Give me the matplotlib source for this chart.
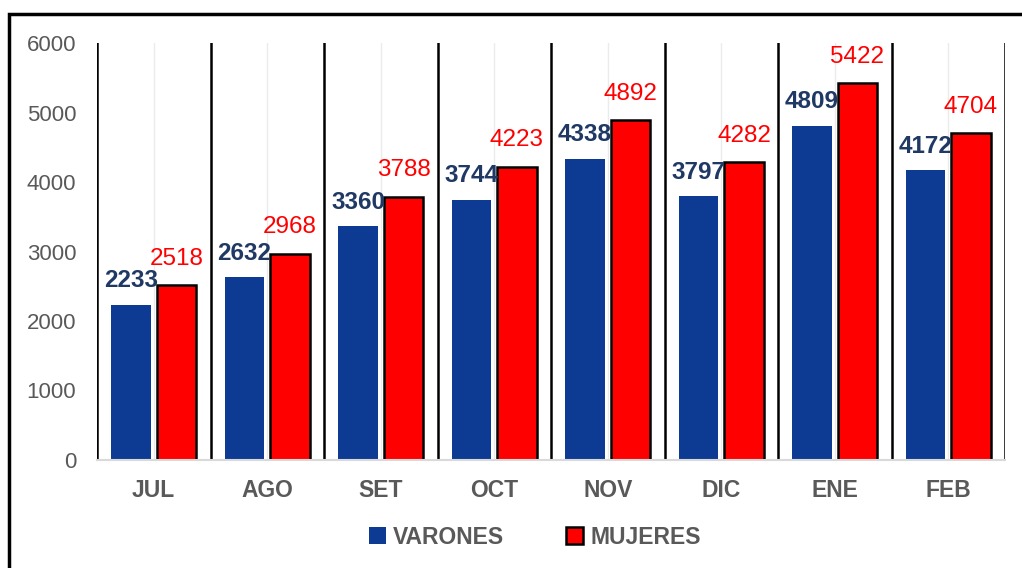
import numpy as np
import matplotlib.pyplot as plt
import matplotlib
from matplotlib.patches import Rectangle

plt.rcParams['font.family'] = ['Liberation Sans', 'DejaVu Sans']

# Data
meses = ["JUL", "AGO", "SET", "OCT", "NOV", "DIC", "ENE", "FEB"]
varones = [2233, 2632, 3360, 3744, 4338, 3797, 4809, 4172]
mujeres = [2518, 2968, 3788, 4223, 4892, 4282, 5422, 4704]
yticks = [0, 1000, 2000, 3000, 4000, 5000, 6000]

azul = "#0D3B94"
azul_txt = "#1F3864"
rojo = "#FF0000"
gris = "#595959"

fig = plt.figure(figsize=(10.22, 5.68), dpi=100)
ax = fig.add_axes([97/1022, 1-460/568, (1005-97)/1022, (460-43)/568])

x = np.arange(len(meses))
w = 0.35
off = 0.2

# gridlines at centers (light) and separators at boundaries (black)
for xi in x:
    ax.axvline(xi, color="#EBEBEB", lw=1, zorder=0)
for b in np.arange(len(meses) + 1) - 0.5:
    ax.axvline(b, color="black", lw=1.8, zorder=1)

b1 = ax.bar(x - off, varones, w, color=azul, zorder=2, label="VARONES")
b2 = ax.bar(x + off, mujeres, w, color=rojo, edgecolor="black", lw=1.8,
            zorder=2, label="MUJERES")

for xi, v in zip(x, varones):
    ax.text(xi - off, v + 180, str(v), ha="center", va="bottom",
            fontsize=17.5, fontweight="bold", color=azul_txt)
for xi, v in zip(x, mujeres):
    ax.text(xi + off, v + 220, str(v), ha="center", va="bottom",
            fontsize=17.5, color=rojo)

ax.set_xlim(-0.5, len(meses) - 0.5)
ax.set_ylim(0, 6000)
ax.set_yticks(yticks)
ax.set_yticklabels([str(t) for t in yticks], fontsize=16, color=gris)
ax.set_xticks(x)
ax.set_xticklabels(meses, fontsize=16.5, fontweight="bold", color=gris)
ax.tick_params(axis="both", length=0)
ax.tick_params(axis="y", pad=15)
ax.tick_params(axis="x", pad=14)

for s in ["top", "right", "left"]:
    ax.spines[s].set_visible(False)
ax.spines["bottom"].set_color("#D9D9D9")
ax.spines["bottom"].set_linewidth(1.5)

leg = fig.legend(handles=[b1, b2], loc="center", bbox_to_anchor=(535/1022, 1-537/568),
                 ncol=2, frameon=False, handlelength=0.75, handleheight=0.75,
                 handletextpad=0.3, columnspacing=2.7,
                 prop={"size": 16.5, "weight": "bold"})
for t in leg.get_texts():
    t.set_color(gris)

# outer frame
fig.patches.append(Rectangle((9/1022, -0.2), 1.2, 1.2 - 14/568, transform=fig.transFigure,
                             fill=False, edgecolor="black", lw=2.5, clip_on=False))

fig.savefig("out.png", dpi=100)
